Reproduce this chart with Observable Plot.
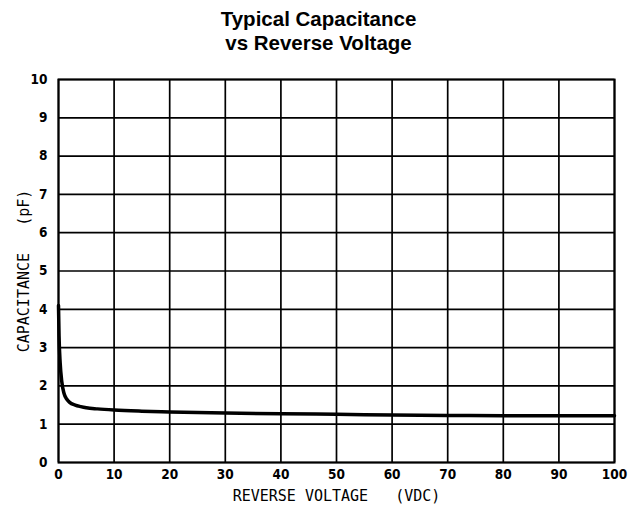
<!DOCTYPE html>
<html>
<head>
<meta charset="utf-8">
<script src="https://cdn.jsdelivr.net/npm/d3@7"></script>
<script src="https://cdn.jsdelivr.net/npm/@observablehq/plot@0.6"></script>
<style>
  body { margin: 0; background: #fff; }
  #title { width: 637px; height: 62px; box-sizing: border-box; padding-top: 7px;
    text-align: center; font-family: "Liberation Sans", Arial, sans-serif; font-weight: bold;
    font-size: 20.5px; line-height: 24px; color: #000; }
  g[aria-label="x-axis label"] text, g[aria-label="y-axis label"] text {
    font-family: "DejaVu Sans Mono", monospace; font-weight: normal; font-size: 15px; }
</style>
</head>
<body>
<div id="title">Typical Capacitance<br>vs Reverse Voltage</div>
<div id="chart"></div>
<script>
const voltage     = [0, 0.1, 0.3, 0.6, 1, 1.5, 2, 3, 4, 5, 7, 10, 15, 20, 30, 40, 50, 60, 70, 80, 90, 100];
const capacitance = [4.1, 3.3, 2.6, 2.1, 1.8, 1.65, 1.57, 1.5, 1.46, 1.43, 1.4, 1.37, 1.34, 1.32, 1.29, 1.27, 1.26, 1.24, 1.23, 1.22, 1.22, 1.22];
const xTicks = [0, 10, 20, 30, 40, 50, 60, 70, 80, 90, 100];
const yTicks = [0, 1, 2, 3, 4, 5, 6, 7, 8, 9, 10];
const xLabel = "REVERSE VOLTAGE\u00a0\u00a0\u00a0(VDC)";
const yLabel = "CAPACITANCE\u00a0\u00a0\u00a0(pF)";

const data = voltage.map((v, i) => ({v, c: capacitance[i]}));

const chart = Plot.plot({
  width: 637,
  height: 446,
  marginTop: 17,
  marginBottom: 46,
  marginLeft: 58,
  marginRight: 23,
  style: {fontFamily: '"Liberation Sans Narrow", "DejaVu Sans Condensed", "Arial Narrow", sans-serif', fontWeight: "bold", fontSize: "13.5px", color: "#000", background: "#fff"},
  x: {domain: [0, 100]},
  y: {domain: [0, 10]},
  marks: [
    Plot.gridX(xTicks, {stroke: "#000", strokeOpacity: 1, strokeWidth: 1.7}),
    Plot.gridY(yTicks, {stroke: "#000", strokeOpacity: 1, strokeWidth: 1.7}),
    Plot.frame({stroke: "#000", strokeWidth: 2}),
    Plot.axisX({ticks: xTicks, tickSize: 0, tickPadding: 7, label: xLabel, labelAnchor: "center", labelArrow: "none", labelOffset: 38}),
    Plot.axisY({ticks: yTicks, tickSize: 0, tickPadding: 11, label: yLabel, labelAnchor: "center", labelArrow: "none", labelOffset: 40}),
    Plot.line(data, {x: "v", y: "c", curve: "monotone-x", stroke: "#000", strokeWidth: 3.5})
  ]
});
document.getElementById("chart").appendChild(chart);
</script>
</body>
</html>
